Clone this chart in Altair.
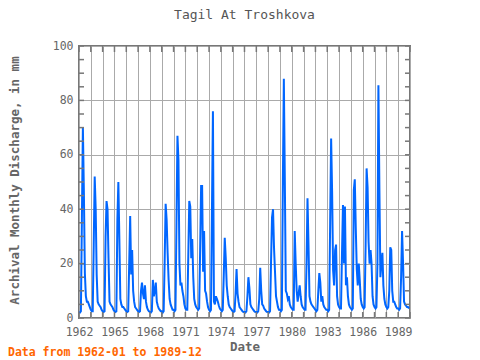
import altair as alt
import pandas as pd

# Monthly discharge (mm), Jan..Dec for each year
flow = {
    1962: [2.2, 2.0, 2.5, 37, 70, 46, 16.5, 8, 6, 6, 5, 4],
    1963: [3.0, 2.5, 2.5, 27, 52, 40, 16, 6, 5, 4.5, 4, 3],
    1964: [2.5, 2.2, 2.5, 30, 43, 40, 22, 6, 5, 4.5, 4, 3],
    1965: [2.5, 2.2, 2.5, 36, 50, 29, 7, 5, 4, 4, 3.5, 3],
    1966: [2.5, 2.2, 2.5, 20, 37.5, 16, 25, 10, 6, 4, 3.5, 3],
    1967: [2.5, 2.2, 2.5, 10, 13, 9, 7, 12, 6, 4, 3, 2.5],
    1968: [2.2, 2.0, 2.5, 14, 8, 10, 13, 6, 4.5, 3.5, 3, 2.5],
    1969: [2.5, 2.0, 2.5, 21, 42, 36, 24, 14, 7, 5, 4, 3],
    1970: [3, 2.5, 3, 35, 67, 58, 20, 12, 13, 10, 8, 5],
    1971: [3.5, 3, 3, 23, 43, 41, 22, 29, 15, 7, 5, 4],
    1972: [3.5, 3, 3.5, 25, 48.5, 48.5, 17, 32, 10, 9, 6, 4],
    1973: [3, 2.5, 3, 40, 76, 6, 5, 8, 7, 6, 4.5, 3.5],
    1974: [3, 2.5, 3, 16, 29.5, 22, 12, 8, 5, 4, 3.5, 3],
    1975: [2.5, 2.2, 2.5, 9, 18, 9, 6, 4, 3.5, 3, 2.5, 2.2],
    1976: [2.2, 2.0, 2.5, 8, 15, 11, 5, 4, 3.5, 3, 2.5, 2.2],
    1977: [2.2, 2.0, 2.5, 7, 18.5, 10, 5, 4.5, 3.5, 3, 2.5, 2.2],
    1978: [2.2, 2.0, 2.5, 21, 37, 40, 26, 17, 8, 6, 4, 3],
    1979: [3, 2.5, 3, 50, 88, 50, 10, 9, 7, 8, 5, 4],
    1980: [3.5, 3, 3, 32, 20, 10, 6, 9, 12, 8, 5, 4],
    1981: [3.5, 3, 3, 20, 44, 27, 8, 6, 5, 4.5, 4, 3.5],
    1982: [3, 2.5, 3, 10, 16.5, 13, 6, 8, 5, 4, 3.5, 3],
    1983: [3, 2.5, 3, 35, 66, 46, 17.6, 12, 25, 27, 8, 5],
    1984: [4, 3.5, 3.5, 24, 41.5, 20, 41, 12, 15, 8, 5, 4],
    1985: [3.5, 3, 3.5, 47, 51, 33, 18, 12, 20, 14, 7, 5],
    1986: [4, 3.5, 4, 27, 55, 48, 28, 20, 25, 20, 8, 5],
    1987: [4, 3.5, 4, 20, 85.6, 47, 15, 20, 24, 12, 7, 5],
    1988: [4, 3.5, 4, 10, 26, 25, 10, 6, 6, 5, 4, 3.5],
    1989: [3.5, 3, 3.5, 15, 32, 20, 6, 5, 4.5, 4, 4, 3.5],
}
years = list(range(1962, 1990))
tick_years = list(range(1962, 1991))
y_gridvals = [0, 20, 40, 60, 80, 100]
y_tickvals = list(range(0, 101, 5))
title_text = "Tagil At Troshkova"
footer_text = "Data from 1962-01 to 1989-12"

values = [v for y in years for v in flow[y]]
dates = pd.date_range("1962-01-01", periods=len(values), freq="MS")
df = pd.DataFrame({"date": dates, "q": values})
df_years = pd.DataFrame({"date": pd.to_datetime([f"{y}-01-01" for y in tick_years])})
df_yt = pd.DataFrame({"v": y_tickvals})
df_foot = pd.DataFrame({"t": [footer_text]})

W, H = 331, 272
FONT = "DejaVu Sans Mono"
GREY = "#666666"

xscale = alt.Scale(domain=[alt.DateTime(year=1962, month=1, date=1),
                           alt.DateTime(year=1990, month=1, date=1)])
yscale = alt.Scale(domain=[0, 100])

xaxis = alt.Axis(values=[alt.DateTime(year=y, month=1, date=1) for y in tick_years],
                 labelExpr="(year(datum.value) - 1962) % 3 == 0 && year(datum.value) < 1990 ? timeFormat(datum.value, '%Y') : ''",
                 labelOverlap=False, labelBound=False, labelFlush=False,
                 ticks=False, domain=False, grid=True, gridColor="#aaaaaa",
                 labelPadding=8, titlePadding=3)
yaxis = alt.Axis(values=y_gridvals, ticks=False, domain=False, grid=True,
                 gridColor="#aaaaaa", labelPadding=6,
                 titleX=-65, titleY=H / 2 - 2, titleAngle=270, titleAlign="center",
                 titleBaseline="middle")
XT = "Date"
YT = "Archival Monthly Discharge, in mm"

line = alt.Chart(df).mark_line(color="#0066ff", strokeWidth=2).encode(
    x=alt.X("date:T", scale=xscale, title=XT, axis=xaxis),
    y=alt.Y("q:Q", scale=yscale, title=YT, axis=yaxis),
)

tick_style = dict(color="#777777", strokeWidth=1.5)
top_ticks = alt.Chart(df_years).mark_rule(**tick_style).encode(
    x=alt.X("date:T", scale=xscale, title=XT, axis=xaxis), y=alt.value(0), y2=alt.value(6))
bot_ticks = alt.Chart(df_years).mark_rule(**tick_style).encode(
    x=alt.X("date:T", scale=xscale, title=XT, axis=xaxis), y=alt.value(H - 6), y2=alt.value(H))
left_ticks = alt.Chart(df_yt).mark_rule(**tick_style).encode(
    y=alt.Y("v:Q", scale=yscale, title=YT, axis=yaxis), x=alt.value(0), x2=alt.value(5))
right_ticks = alt.Chart(df_yt).mark_rule(**tick_style).encode(
    y=alt.Y("v:Q", scale=yscale, title=YT, axis=yaxis), x=alt.value(W - 5), x2=alt.value(W))

footer = alt.Chart(df_foot).mark_text(
    align="left", baseline="alphabetic", font=FONT, fontSize=11.5, fontWeight="bold",
    color="#ff6600").encode(text="t:N", x=alt.value(-71), y=alt.value(H + 38))

chart = alt.layer(line, top_ticks, bot_ticks, left_ticks, right_ticks, footer).properties(
    width=W, height=H,
    autosize=alt.AutoSizeParams(type="none"),
    padding={"left": 71, "top": 38, "right": 60, "bottom": 46},
    title=alt.TitleParams(title_text, font=FONT, fontSize=13, fontWeight="normal",
                          color="#555555", anchor="middle", frame="group", offset=18),
).configure_view(stroke="#777777", strokeWidth=2).configure_axis(
    labelFont=FONT, labelFontSize=11.5, labelColor=GREY,
    titleFont=FONT, titleFontSize=12.5, titleColor=GREY, titleFontWeight="bold",
)

chart.save("out.html", embed_options={"renderer": "svg", "actions": False})
